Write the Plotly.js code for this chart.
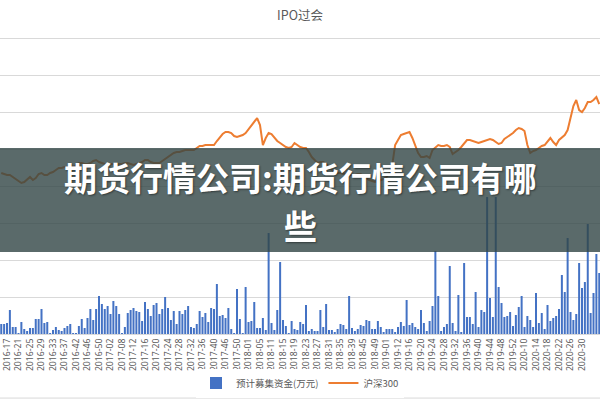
<!DOCTYPE html>
<html>
<head>
<meta charset="utf-8">
<script src="https://cdn.plot.ly/plotly-3.0.1.min.js"></script>
<style>html,body{margin:0;padding:0;background:#fff;}#chart{width:600px;height:400px;}</style>
</head>
<body>
<div id="chart"></div>
<script>
// Week categories (year-week)
const weeks = [
"2016-15","2016-16","2016-17","2016-18","2016-19","2016-20","2016-21","2016-22","2016-23","2016-24",
"2016-25","2016-26","2016-27","2016-28","2016-29","2016-30","2016-31","2016-32","2016-33","2016-34",
"2016-35","2016-36","2016-37","2016-38","2016-39","2016-41","2016-42","2016-43","2016-44","2016-45",
"2016-46","2016-47","2016-48","2016-49","2016-50","2016-51","2016-52","2017-01","2017-02","2017-03",
"2017-04","2017-07","2017-08","2017-09","2017-10","2017-11","2017-12","2017-13","2017-14","2017-15",
"2017-16","2017-17","2017-18","2017-19","2017-20","2017-21","2017-22","2017-23","2017-24","2017-25",
"2017-26","2017-27","2017-28","2017-29","2017-30","2017-31","2017-32","2017-33","2017-34","2017-35",
"2017-36","2017-37","2017-38","2017-39","2017-40","2017-43","2017-44","2017-45","2017-46","2017-47",
"2017-48","2017-49","2017-50","2017-51","2017-52","2017-53","2018-01","2018-02","2018-03","2018-04",
"2018-05","2018-06","2018-09","2018-10","2018-11","2018-12","2018-13","2018-14","2018-15","2018-16",
"2018-17","2018-18","2018-19","2018-20","2018-21","2018-22","2018-23","2018-24","2018-25","2018-26",
"2018-27","2018-28","2018-29","2018-30","2018-31","2018-32","2018-33","2018-34","2018-35","2018-36",
"2018-37","2018-38","2018-39","2018-42","2018-43","2018-44","2018-45","2018-46","2018-47","2018-48",
"2018-49","2018-50","2018-51","2018-52","2019-01","2019-03","2019-05","2019-10","2019-12","2019-13",
"2019-14","2019-15","2019-16","2019-17","2019-18","2019-19","2019-20","2019-21","2019-22","2019-23",
"2019-24","2019-25","2019-26","2019-27","2019-28","2019-29","2019-30","2019-31","2019-32","2019-33",
"2019-34","2019-35","2019-36","2019-37","2019-38","2019-39","2019-40","2019-41","2019-42","2019-43",
"2019-44","2019-45","2019-46","2019-47","2019-48","2019-49","2019-50","2019-51","2019-52","2020-01",
"2020-02","2020-09","2020-10","2020-11","2020-12","2020-13","2020-14","2020-15","2020-16","2020-17",
"2020-18","2020-19","2020-20","2020-21","2020-22","2020-23","2020-24","2020-25","2020-26","2020-27",
"2020-28","2020-29","2020-30","2020-31","2020-32","2020-33","2020-34","2020-35","2020-36"
];

// 预计募集资金(万元)
const funds = [
100000,100000,110000,240000,70000,70000,10000,120000,50000,30000,
60000,60000,150000,150000,250000,110000,120000,10000,40000,70000,
40000,30000,60000,80000,100000,10000,10000,80000,150000,60000,
160000,250000,140000,250000,380000,300000,250000,280000,200000,330000,
280000,200000,10000,70000,210000,240000,260000,230000,220000,130000,
320000,250000,180000,290000,310000,200000,250000,370000,260000,140000,
230000,100000,230000,200000,240000,280000,70000,60000,100000,230000,
170000,210000,120000,260000,250000,500000,180000,190000,160000,260000,
50000,10000,450000,150000,10000,470000,120000,130000,320000,60000,
60000,160000,40000,1010000,110000,40000,240000,720000,140000,80000,
10000,130000,50000,40000,120000,100000,290000,30000,50000,30000,
30000,240000,70000,300000,40000,40000,20000,50000,100000,90000,
50000,380000,60000,30000,50000,90000,80000,140000,130000,50000,
50000,130000,70000,20000,50000,50000,50000,20000,70000,120000,
80000,340000,90000,110000,70000,50000,240000,110000,30000,130000,
280000,830000,380000,30000,70000,100000,680000,110000,30000,390000,
20000,710000,170000,170000,100000,420000,70000,240000,220000,1370000,
360000,170000,1370000,470000,310000,170000,180000,220000,80000,190000,
270000,380000,70000,180000,140000,70000,410000,110000,210000,50000,
290000,130000,160000,180000,250000,590000,420000,960000,220000,140000,
200000,710000,460000,520000,1100000,210000,410000,800000,610000
];

// 沪深300
const hs300 = [
3273,3253,3232,3232,3192,3151,3110,3070,3090,3151,
3192,3131,3171,3253,3273,3232,3232,3273,3293,3334,
3375,3375,3395,3395,3395,3395,3436,3476,3476,3456,
3456,3476,3517,3537,3497,3476,3456,3456,3456,3456,
3456,3456,3456,3476,3476,3456,3436,3456,3476,3497,
3537,3537,3497,3476,3476,3476,3517,3558,3598,3639,
3680,3700,3700,3720,3741,3741,3741,3741,3781,3822,
3822,3842,3842,3842,3842,3924,4005,4066,4107,4107,
4086,4025,4005,4025,4046,4086,4168,4249,4330,4391,
4249,3842,3985,4086,4066,3985,3924,3883,3842,3802,
3781,3802,3883,3842,3802,3781,3781,3700,3598,3537,
3476,3497,3497,3456,3415,3334,3293,3273,3273,3253,
3253,3232,3232,3232,3253,3253,3212,3171,3131,3110,
3090,3110,3131,3151,3192,3273,3436,3842,3944,4046,
4066,4086,4107,3985,3822,3680,3598,3598,3619,3578,
3741,3802,3842,3822,3822,3842,3802,3659,3700,3741,
3802,3863,3944,3944,3924,3903,3883,3903,3924,3944,
3964,3944,3903,3863,3883,3964,4005,4046,4086,4147,
4188,4168,4127,3842,3680,3720,3741,3781,3822,3842,
3903,3985,3903,3842,3944,4005,4046,4147,4391,4635,
4757,4554,4513,4594,4717,4717,4757,4818,4676
];

const seriesNames = ["预计募集资金(万元)", "沪深300"];
const chartTitle = "IPO过会";
const bannerLines = ["期货行情公司:期货行情公司有哪", "些"];

// every 4th week label, the last one shown is 2020-30
const tickWeeks = weeks.filter((w, i) => i % 4 === 2 && i <= 202);

const traces = [
  {
    type: "bar", name: seriesNames[0], x: weeks, y: funds,
    marker: {color: "#4472C4"}, yaxis: "y"
  },
  {
    type: "scatter", mode: "lines", name: seriesNames[1], x: weeks, y: hs300,
    line: {color: "#ED7D31", width: 2}, yaxis: "y2"
  }
];

const bannerFont = {size: 33, color: "#ffffff", family: "Noto Sans CJK SC, sans-serif", weight: "bold",
                    shadow: "1px 1px 2px rgba(0,0,0,0.45)"};

const layout = {
  width: 600, height: 400,
  margin: {l: 0, r: 0, t: 2, b: 66},
  paper_bgcolor: "#ffffff", plot_bgcolor: "#ffffff",
  font: {family: "Noto Sans CJK SC, Noto Sans, sans-serif", color: "#595959"},
  title: {text: chartTitle, x: 0.5, xanchor: "center", y: 0.962, yanchor: "middle", yref: "container",
          font: {size: 12.5, color: "#595959", family: "Noto Sans CJK SC, sans-serif"}},
  bargap: 0.3,
  showlegend: true,
  legend: {orientation: "h", x: 0.5, xanchor: "center", y: -0.1476, yanchor: "middle",
           font: {size: 9.5, color: "#595959"}, traceorder: "normal", itemwidth: 30},
  xaxis: {
    type: "category", range: [-0.435, 208.26], tickmode: "array",
    tickvals: tickWeeks, ticktext: tickWeeks, tickangle: -90,
    tickfont: {size: 8.7, color: "#595959", family: "Noto Sans, sans-serif"},
    ticks: "", showgrid: false, showline: true, linecolor: "#d9d9d9", linewidth: 1,
    zeroline: false, fixedrange: true
  },
  yaxis: {
    range: [0, 3321000], tick0: 0, dtick: 369000, showticklabels: false,
    showgrid: true, gridcolor: "#d9d9d9", gridwidth: 1, zeroline: false, ticks: "", fixedrange: true
  },
  yaxis2: {
    overlaying: "y", side: "right", range: [0, 6750], showgrid: false,
    showticklabels: false, zeroline: false, ticks: "", fixedrange: true
  },
  shapes: [
    {type: "rect", xref: "paper", yref: "paper", x0: 0, x1: 1, y0: 0.247, y1: 0.560,
     fillcolor: "rgba(49,69,69,0.8)", line: {width: 0}, layer: "above"},
    {type: "line", xref: "paper", yref: "paper", x0: 0, x1: 1, y0: -0.193, y1: -0.193,
     line: {color: "#d9d9d9", width: 1}, layer: "below"}
  ],
  annotations: [
    {text: bannerLines[0], xref: "paper", yref: "paper", x: 0.5, y: (334 - 176.5) / 332,
     xanchor: "center", yanchor: "middle", showarrow: false, font: bannerFont},
    {text: bannerLines[1], xref: "paper", yref: "paper", x: 0.5, y: (334 - 225.5) / 332,
     xanchor: "center", yanchor: "middle", showarrow: false, font: bannerFont}
  ]
};

Plotly.newPlot("chart", traces, layout, {displayModeBar: false, staticPlot: true});
</script>
</body>
</html>
